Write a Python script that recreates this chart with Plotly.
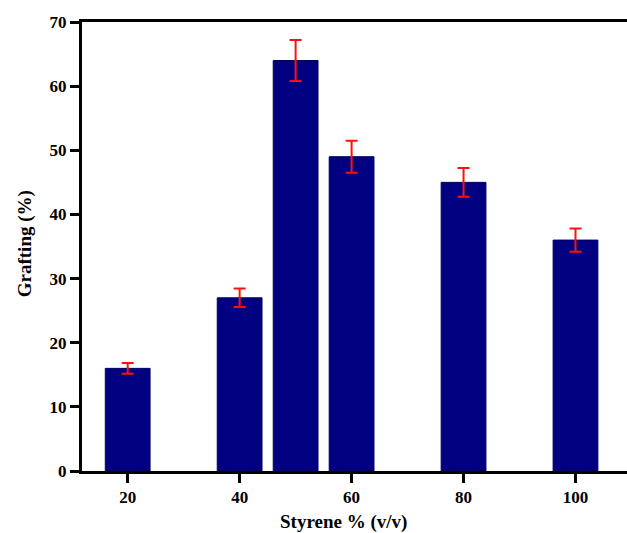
import plotly.graph_objects as go

styrene = [20, 40, 50, 60, 80, 100]
grafting = [16.0, 27.0, 64.0, 49.0, 45.0, 36.0]
errors = [0.85, 1.45, 3.2, 2.5, 2.25, 1.8]
x_ticks = [20, 40, 60, 80, 100]
y_ticks = [0, 10, 20, 30, 40, 50, 60, 70]

font_family = "Liberation Serif"

fig = go.Figure()
fig.add_trace(go.Bar(
    x=styrene, y=grafting, width=8,
    marker=dict(color="#000080", line=dict(color="#000060", width=1)),
    error_y=dict(type="data", array=errors, color="#ff1010", thickness=2, width=6),
))

fig.update_layout(
    width=627, height=533,
    margin=dict(l=82, r=0, t=22, b=62, autoexpand=False),
    plot_bgcolor="white", paper_bgcolor="white",
    showlegend=False,
    font=dict(family=font_family, color="black"),
    annotations=[
        dict(text="<b>Styrene % (v/v)</b>", xref="paper", yref="paper",
             x=0.48, y=0, yshift=-38, xanchor="center", yanchor="top",
             showarrow=False, font=dict(family=font_family, size=19, color="black")),
        dict(text="<b>Grafting (%)</b>", xref="paper", yref="paper",
             x=0, xshift=-57, y=0.505, xanchor="center", yanchor="middle", textangle=-90,
             showarrow=False, font=dict(family=font_family, size=19, color="black")),
    ],
)
fig.update_xaxes(
    range=[11.84, 109.2], tickvals=x_ticks, ticktext=[str(v) for v in x_ticks],
    showgrid=False, zeroline=False, automargin=False,
    showline=True, linecolor="black", linewidth=3, mirror=True,
    ticks="outside", ticklen=9, tickwidth=2.5, tickcolor="black",
    tickfont=dict(family=font_family, size=17, color="black", weight="bold"),
)
fig.update_yaxes(
    range=[0, 70], tickvals=y_ticks, ticktext=[str(v) for v in y_ticks],
    showgrid=False, zeroline=False, automargin=False,
    showline=True, linecolor="black", linewidth=3, mirror=False,
    ticks="outside", ticklen=9, tickwidth=2.5, tickcolor="black",
    tickfont=dict(family=font_family, size=17, color="black", weight="bold"),
)

fig.write_html("out.html", config={"displayModeBar": False},
               post_script="document.body.style.margin='0';document.body.style.overflow='hidden';")
